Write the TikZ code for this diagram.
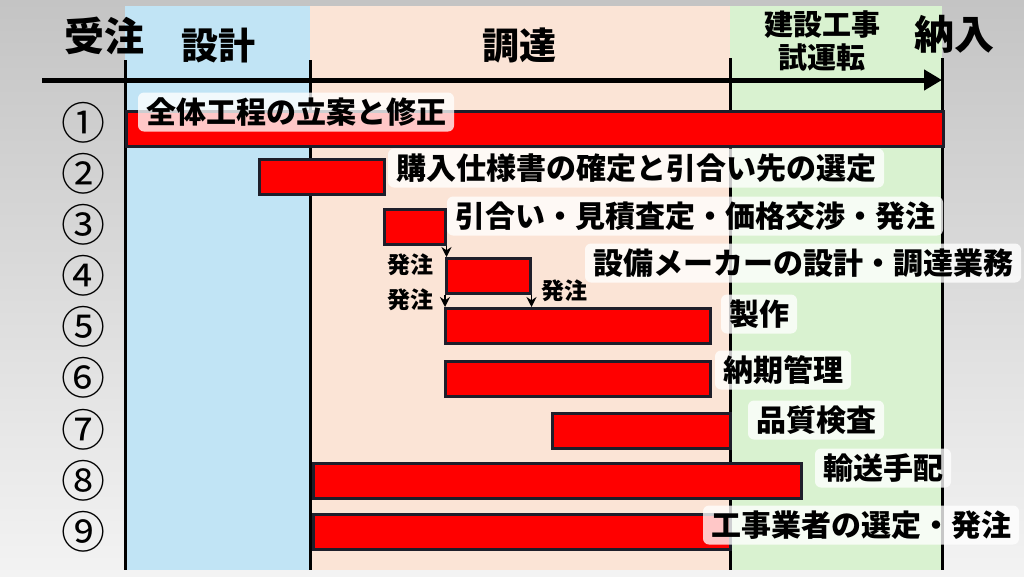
\documentclass[tikz,border=0pt]{standalone}
\usepackage{fontspec}
\setmainfont{Noto Sans CJK JP}
\usepackage{tikz}
\usetikzlibrary{arrows.meta, positioning}
\definecolor{bgtop}{RGB}{196,196,196}
\definecolor{bgbot}{RGB}{243,243,243}
\definecolor{blueband}{RGB}{193,228,245}
\definecolor{peachband}{RGB}{251,228,214}
\definecolor{greenband}{RGB}{217,242,208}
\definecolor{barred}{RGB}{255,0,0}
\definecolor{barline}{RGB}{30,30,42}
\tikzstyle{head} = [font=\bfseries\fontsize{40pt}{40pt}\selectfont, inner sep=0pt]
\tikzstyle{phase} = [font=\bfseries\fontsize{37pt}{37pt}\selectfont, inner sep=0pt]
\tikzstyle{sub} = [font=\bfseries\fontsize{29pt}{33pt}\selectfont, align=center, inner sep=0pt]
\tikzstyle{num} = [font=\fontsize{44pt}{44pt}\selectfont, inner sep=0pt]
\tikzstyle{bar} = [draw=barline, fill=barred, line width=2.5pt, anchor=north west, minimum height=35pt, inner sep=0pt]
\tikzstyle{lbl} = [fill=white, fill opacity=0.78, text opacity=1, rounded corners=6pt, inner xsep=8pt, minimum height=39pt, font=\bfseries\fontsize{30pt}{30pt}\selectfont]
\tikzstyle{ordlbl} = [font=\bfseries\fontsize{23pt}{23pt}\selectfont, inner sep=0pt]
\tikzstyle{ord} = [line width=1.8pt, -{Stealth[length=10pt,width=10pt]}]
\tikzstyle{axis} = [line width=5pt, -{Triangle[length=18pt,width=20pt]}]
\tikzstyle{tick} = [line width=3pt]

\begin{document}
\begin{tikzpicture}[x=1pt,y=-1pt]
        \useasboundingbox (0,0) rectangle (1024,576);
        % background and phase bands
        \shade[top color=bgtop, bottom color=bgbot] (0,0) rectangle (1024,576);
        \fill[blueband] (125,6) rectangle (310,570);
        \fill[peachband] (310,6) rectangle (730,570);
        \fill[greenband] (730,6) rectangle (942,570);

        % headings
        \node[head] (order) at (104,36) {受注};
        \node[phase] (design) at (218,46) {設計};
        \node[phase] (procure) at (519,46) {調達};
        \node[sub] (build) at (822,41) {建設工事\\試運転};
        \node[head] (deliver) at (954,34) {納入};

        % time axis
        \coordinate (t0) at (125,60);  \coordinate (t0b) at (125,570);
        \coordinate (t1) at (310,60);  \coordinate (t1b) at (310,570);
        \coordinate (t2) at (730,58);  \coordinate (t2b) at (730,570);
        \coordinate (t3) at (942,58);  \coordinate (t3b) at (942,570);
        \draw[tick] (t0) -- (t0b);
        \draw[tick] (t1) -- (t1b);
        \draw[tick] (t2) -- (t2b);
        \draw[tick] (t3) -- (t3b);
        \coordinate (ax0) at (42,80);
        \coordinate (ax1) at (942,80);
        \draw[axis] (ax0) -- (ax1);

        % row numbers
        \node[num] (n1) at (83,123) {①};
        \node[num] (n2) at (83,174) {②};
        \node[num] (n3) at (83,225) {③};
        \node[num] (n4) at (83,276) {④};
        \node[num] (n5) at (83,327) {⑤};
        \node[num] (n6) at (83,378) {⑥};
        \node[num] (n7) at (83,430) {⑦};
        \node[num] (n8) at (83,481) {⑧};
        \node[num] (n9) at (83,532) {⑨};

        % bars
        \node[bar, minimum width=817pt] (b1) at (125,110) {};
        \node[bar, minimum width=125pt] (b2) at (258,158) {};
        \node[bar, minimum width=61pt] (b3) at (383,208) {};
        \node[bar, minimum width=84pt] (b4) at (445,257) {};
        \node[bar, minimum width=265pt] (b5) at (444,307) {};
        \node[bar, minimum width=265pt] (b6) at (444,360) {};
        \node[bar, minimum width=178pt] (b7) at (551,412) {};
        \node[bar, minimum width=488pt] (b8) at (312,462) {};
        \node[bar, minimum width=417pt] (b9) at (312,513) {};

        % task labels
        \node[lbl] (l1) at (296,112) {全体工程の立案と修正};
        \node[lbl] (l2) at (636,168) {購入仕様書の確定と引合い先の選定};
        \node[lbl] (l3) at (695,216) {引合い・見積査定・価格交渉・発注};
        \node[lbl] (l4) at (803,263) {設備メーカーの設計・調達業務};
        \node[lbl] (l5) at (759,314) {製作};
        \node[lbl] (l6) at (783,370) {納期管理};
        \node[lbl] (l7) at (816,420) {品質検査};
        \node[lbl] (l8) at (883,468) {輸送手配};
        \node[lbl] (l9) at (861,525) {工事業者の選定・発注};

        % order arrows
        \draw[ord] (b3.south east) -- (b3.south east |- b4.north);
        \draw[ord] (b4.south west) -- (b4.south west |- b5.north);
        \draw[ord] (b4.south east) -- (b4.south east |- b5.north);
        \node[ordlbl] (o1) at (410,265) {発注};
        \node[ordlbl] (o2) at (410,300) {発注};
        \node[ordlbl] (o3) at (564,291) {発注};
      \end{tikzpicture}
\end{document}
